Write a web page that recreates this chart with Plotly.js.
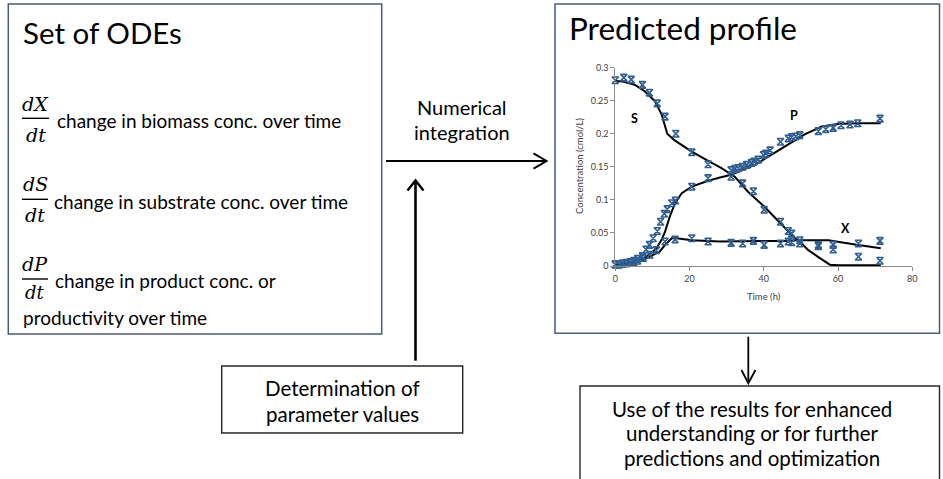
<!DOCTYPE html>
<html>
<head>
<meta charset="utf-8">
<script src="https://cdn.plot.ly/plotly-3.0.1.min.js"></script>
<style>
  html, body { margin: 0; padding: 0; background: #ffffff; }
  #chart { width: 943px; height: 479px; }
</style>
</head>
<body>
<div id="chart"></div>
<script>
// Measured concentrations (cmol/L) versus time (h)
const sObsTime = [0, 2.3, 4.3, 7.3, 9.2, 11.3, 13.4, 16.3, 20.6, 25, 31.2, 34.3, 37.2, 40.1, 44.5, 46.6, 47.5, 49.7, 54.7, 58.7, 65.5, 71.3];
const sObs     = [0.281, 0.285, 0.282, 0.274, 0.262, 0.246, 0.226, 0.200, 0.172, 0.154, 0.135, 0.125, 0.113, 0.085, 0.067, 0.053, 0.049, 0.034, 0.030, 0.025, 0.014, 0.008];

const pObsTime = [0, 1, 2, 3, 4, 5, 6, 7.3, 8.3, 9.2, 10.2, 11.3, 12.2, 13.2, 14, 15.2, 16.2, 20.6, 25, 31.2, 32.2, 33.1, 34.2, 35.4, 36.7, 37.4, 38.5, 39.9, 40.5, 41.7, 44.5, 46.6, 47.5, 48.6, 49.7, 54.7, 56.7, 58.7, 60.8, 63.2, 65.3, 71.3];
const pObs     = [0.003, 0.003, 0.004, 0.005, 0.006, 0.008, 0.011, 0.015, 0.025, 0.032, 0.042, 0.053, 0.067, 0.079, 0.086, 0.095, 0.099, 0.120, 0.133, 0.145, 0.147, 0.148, 0.150, 0.153, 0.156, 0.158, 0.161, 0.168, 0.170, 0.175, 0.188, 0.193, 0.195, 0.196, 0.198, 0.204, 0.207, 0.209, 0.213, 0.214, 0.216, 0.223];

const xObsTime = [0, 1, 2, 3, 4, 5, 6, 7.5, 9.3, 11.1, 13.4, 16.1, 20.6, 25, 31.2, 34.3, 37.2, 40.1, 44.5, 46.6, 47.5, 49.7, 54.7, 58.7, 65.5, 71.3];
const xObs     = [0.002, 0.002, 0.003, 0.004, 0.005, 0.006, 0.008, 0.012, 0.017, 0.024, 0.037, 0.040, 0.042, 0.037, 0.035, 0.034, 0.038, 0.032, 0.034, 0.037, 0.036, 0.039, 0.032, 0.032, 0.034, 0.038];

// Model predictions from numerical integration of the ODEs
const sModTime = [0, 2, 4, 5.3, 8, 10.7, 12.5, 13.6, 14, 16, 20.6, 25, 28.6, 32.2, 35.8, 40.1, 44.8, 48.4, 50, 52, 55.1, 57.8, 60, 71.5];
const sMod     = [0.280, 0.279, 0.276, 0.274, 0.264, 0.249, 0.229, 0.207, 0.200, 0.190, 0.173, 0.159, 0.148, 0.135, 0.112, 0.090, 0.062, 0.042, 0.035, 0.024, 0.012, 0.002, 0.001, 0.001];

const pModTime = [0, 4, 7.5, 9.8, 11.1, 12.5, 13.4, 14.7, 16.1, 17.9, 20.6, 25, 28.2, 31.2, 37.6, 42, 46.6, 51, 55.6, 60, 65, 71.5];
const pMod     = [0.001, 0.005, 0.011, 0.020, 0.027, 0.040, 0.052, 0.075, 0.095, 0.110, 0.120, 0.129, 0.134, 0.138, 0.153, 0.168, 0.183, 0.199, 0.211, 0.215, 0.216, 0.216];

const xModTime = [0, 4, 7.5, 10.7, 12, 13.4, 15.2, 16.5, 20.6, 28.2, 35, 40, 45, 50, 53.8, 57.4, 65, 71.5];
const xMod     = [0.001, 0.004, 0.009, 0.018, 0.022, 0.032, 0.042, 0.042, 0.039, 0.037, 0.037, 0.037, 0.038, 0.039, 0.039, 0.039, 0.032, 0.027];

// Axis ticks
const xTicks = [0, 20, 40, 60, 80];
const yTicks = [0, 0.05, 0.1, 0.15, 0.2, 0.25, 0.3];

// Page geometry helpers: pixel -> paper fraction
const W = 943, H = 479;
const px = v => v / W;
const py = v => 1 - v / H;

const TEXT_FONT = 'Lato, "Open Sans", sans-serif';
const MATH_FONT = '"DejaVu Serif", "Liberation Serif", serif';
const BOX_BLUE = '#4a5b7e';

const markerStyle = {
  symbol: 'hourglass-open', size: 6.5, color: '#2f5e91',
  line: { color: '#2f5e91', width: 1.6 }
};
const modelLine = { color: '#000000', width: 2 };

const traces = [
  { x: sModTime, y: sMod, mode: 'lines', line: modelLine, hoverinfo: 'skip' },
  { x: pModTime, y: pMod, mode: 'lines', line: modelLine, hoverinfo: 'skip' },
  { x: xModTime, y: xMod, mode: 'lines', line: modelLine, hoverinfo: 'skip' },
  { x: sObsTime, y: sObs, mode: 'markers', marker: markerStyle, cliponaxis: false },
  { x: pObsTime, y: pObs, mode: 'markers', marker: markerStyle, cliponaxis: false },
  { x: xObsTime, y: xObs, mode: 'markers', marker: markerStyle, cliponaxis: false }
];

// Shapes: frames, fraction bars and arrows
function rect(x0, y0, x1, y1, color, width) {
  return { type: 'rect', xref: 'paper', yref: 'paper',
    x0: px(x0), y0: py(y0), x1: px(x1), y1: py(y1),
    line: { color: color, width: width }, fillcolor: 'rgba(0,0,0,0)' };
}
function seg(x0, y0, x1, y1, width) {
  return { type: 'line', xref: 'paper', yref: 'paper',
    x0: px(x0), y0: py(y0), x1: px(x1), y1: py(y1),
    line: { color: '#000000', width: width } };
}
function chevron(pts, width) {
  const d = pts.map((p, i) => (i ? 'L' : 'M') + px(p[0]) + ',' + py(p[1])).join(' ');
  return { type: 'path', xref: 'paper', yref: 'paper', path: d,
    line: { color: '#000000', width: width } };
}

const shapes = [
  rect(8.3, 4, 381.7, 334, BOX_BLUE, 1.5),
  rect(555, 4, 939.5, 333.3, BOX_BLUE, 1.5),
  rect(221.7, 366, 462.7, 433, '#262626', 1.4),
  rect(580, 386, 939.5, 495, '#262626', 1.4),
  // fraction bars
  seg(22, 118.3, 49, 118.3, 1.4),
  seg(22, 199.3, 48, 199.3, 1.4),
  seg(22, 279, 48, 279, 1.4),
  // numerical integration arrow
  seg(386, 161, 545.5, 161, 2),
  chevron([[533.5, 153.3], [546.5, 161], [533.5, 168.7]], 2),
  // parameter values arrow
  seg(415.5, 360.7, 415.5, 181.5, 2.6),
  chevron([[407.5, 190.5], [415.5, 180.5], [423.5, 190.5]], 2.4),
  // use of results arrow
  seg(748.3, 336.7, 748.3, 382, 1.8),
  chevron([[741.5, 370], [748.3, 383.3], [755.5, 370]], 1.8)
];

function label(text, x, y, size, opts) {
  return Object.assign({
    text: text, xref: 'paper', yref: 'paper', x: px(x), y: py(y),
    xanchor: 'left', yanchor: 'middle', showarrow: false,
    font: { family: TEXT_FONT, size: size, color: '#000000' }
  }, opts || {});
}
function mathLabel(text, x, y, size) {
  const s = size || 19;
  return label('<i>' + text + '</i>', x, y, s,
    { xanchor: 'center', font: { family: MATH_FONT, size: s, color: '#000000' } });
}
function dataLabel(text, t, c) {
  return { text: '<b>' + text + '</b>', xref: 'x', yref: 'y', x: t, y: c,
    showarrow: false, xanchor: 'center', yanchor: 'middle',
    font: { family: TEXT_FONT, size: 12.5, color: '#000000' } };
}

const annotations = [
  label('Set of ODEs', 21, 32.5, 29.5),
  label('Predicted profile', 567, 28, 31.5),

  mathLabel('dX', 35.5, 103.5), mathLabel('dt', 35.5, 134.5),
  label('change in biomass conc. over time', 55, 121, 19),
  mathLabel('dS', 35, 183.5), mathLabel('dt', 35, 214.5),
  label('change in substrate conc. over time', 52, 201, 19),
  mathLabel('dP', 35, 263.5), mathLabel('dt', 35, 292.5, 18),
  label('change in product conc. or', 53, 280.5, 19),
  label('productivity over time', 21, 317, 19),

  label('Numerical', 461.7, 107.5, 20, { xanchor: 'center' }),
  label('integration', 461.7, 132, 20, { xanchor: 'center' }),

  label('Determination of', 342, 388, 20.5, { xanchor: 'center' }),
  label('parameter values', 342, 413.5, 20.5, { xanchor: 'center' }),

  label('Use of the results for enhanced', 752, 408.5, 20.5, { xanchor: 'center' }),
  label('understanding or for further', 752, 433, 20.5, { xanchor: 'center' }),
  label('predictions and optimization', 752, 457.5, 20.5, { xanchor: 'center' }),

  // axis titles
  label('Time (h)', 764, 296.5, 9.5, { xanchor: 'center', font: { family: TEXT_FONT, size: 9.5, color: '#404040' } }),
  label('Concentration (cmol/L)', 579, 166, 9.5, { xanchor: 'center', textangle: -90,
    font: { family: TEXT_FONT, size: 9.5, color: '#404040' } }),

  // curve labels
  dataLabel('S', 5.3, 0.2235),
  dataLabel('P', 48.2, 0.227),
  dataLabel('X', 62.1, 0.057)
];

const tickFont = { family: TEXT_FONT, size: 9, color: '#404040' };

const layout = {
  width: W, height: H,
  margin: { l: 0, r: 0, t: 0, b: 0, pad: 0 },
  paper_bgcolor: '#ffffff', plot_bgcolor: 'rgba(0,0,0,0)',
  showlegend: false,
  xaxis: {
    domain: [px(615.3), px(912.3)], range: [0, 80],
    tickvals: xTicks, ticktext: xTicks.map(String),
    showline: true, linecolor: '#8c8c8c', linewidth: 1,
    ticks: 'outside', ticklen: 4, tickcolor: '#8c8c8c', tickwidth: 1,
    showgrid: false, zeroline: false, automargin: false, fixedrange: true,
    tickfont: tickFont
  },
  yaxis: {
    domain: [py(266), py(67.7)], range: [0, 0.3],
    tickvals: yTicks, ticktext: yTicks.map(String),
    showline: true, linecolor: '#8c8c8c', linewidth: 1,
    ticks: 'outside', ticklen: 4, tickcolor: '#8c8c8c', tickwidth: 1,
    showgrid: false, zeroline: false, automargin: false, fixedrange: true,
    tickfont: tickFont
  },
  shapes: shapes,
  annotations: annotations
};

Plotly.newPlot('chart', traces, layout, { displayModeBar: false, staticPlot: true });
</script>
</body>
</html>
